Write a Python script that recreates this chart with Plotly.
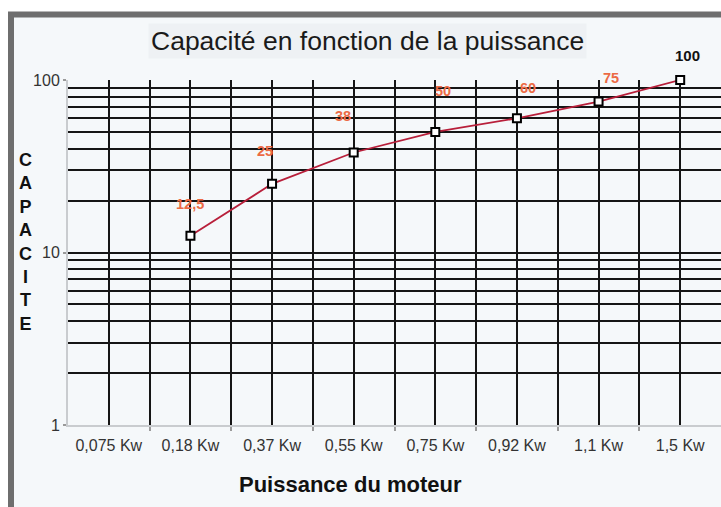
import math
import plotly.graph_objects as go

# ---- data ----
categories = ["0,075 Kw", "0,18 Kw", "0,37 Kw", "0,55 Kw", "0,75 Kw", "0,92 Kw", "1,1 Kw", "1,5 Kw"]
point_categories = ["0,18 Kw", "0,37 Kw", "0,55 Kw", "0,75 Kw", "0,92 Kw", "1,1 Kw", "1,5 Kw"]
capacite = [12.5, 25, 38, 50, 60, 75, 100]
y_ticks = [1, 10, 100]

# label offsets in pixels (style only)
label_dx = [0, -7, -11, 8, 11, 12, 7]
label_dy = [32, 33, 36, 41, 30, 24, 25]

W, H = 721, 507
ML, MR, MT, MB = 68, 0, 80, 82
PW, PH = W - ML - MR, H - MT - MB

def px(xp):
    return (xp - ML) / PW

def py(yp):
    return (H - MB - yp) / PH

xi = [categories.index(c) for c in point_categories]

fig = go.Figure()
fig.add_trace(go.Scatter(
    x=xi, y=capacite, mode="lines+markers",
    line=dict(color="#b81f3a", width=1.8),
    marker=dict(symbol="square", size=8, color="white", line=dict(color="black", width=2)),
    cliponaxis=False, showlegend=False, hoverinfo="skip",
))

annotations = []
for i, (x, v) in enumerate(zip(xi, capacite)):
    txt = (f"{v:g}").replace(".", ",")
    last = i == len(capacite) - 1
    annotations.append(dict(
        x=x, y=math.log10(v), xref="x", yref="y",
        text=f"<b>{txt}</b>", showarrow=False,
        xanchor="center", yanchor="middle",
        xshift=label_dx[i], yshift=label_dy[i],
        font=dict(family="Liberation Sans, Arial", size=15 if last else 14.5,
                  color="#111111" if last else "#ec6a44"),
    ))

annotations.append(dict(
    x=px(367), y=py(41), xref="paper", yref="paper",
    xanchor="center", yanchor="middle",
    text="Capacité en fonction de la puissance", showarrow=False,
    font=dict(family="Liberation Sans, Arial", size=26.5, color="#1a1a1a"),
    bgcolor="#eef1f4", borderpad=2,
))
annotations.append(dict(
    x=px(350), y=py(485), xref="paper", yref="paper",
    xanchor="center", yanchor="middle",
    text="<b>Puissance du moteur</b>", showarrow=False,
    font=dict(family="Liberation Sans, Arial", size=22, color="#111111"),
))
annotations.append(dict(
    x=px(25), y=py(242), xref="paper", yref="paper",
    xanchor="center", yanchor="middle",
    text="<b>" + "<br>".join(list("CAPACITE")) + "</b>", showarrow=False,
    font=dict(family="Liberation Sans, Arial", size=18, color="#111111"),
))

shapes = [dict(
    type="rect", xref="paper", yref="paper", layer="below",
    x0=px(11), x1=px(W + 20), y0=py(14.5), y1=py(H + 20),
    fillcolor="#f5f8fa", line=dict(color="#6e6e6e", width=6),
)]

fig.update_layout(
    width=W, height=H,
    margin=dict(l=ML, r=MR, t=MT, b=MB),
    paper_bgcolor="white",
    plot_bgcolor="#f7f9fb",
    annotations=annotations,
    shapes=shapes,
    xaxis=dict(
        range=[-0.5, 7.5],
        tickmode="array", tickvals=list(range(len(categories))), ticktext=categories,
        showgrid=True, gridcolor="#151515", gridwidth=2,
        ticks="outside", ticklen=0, ticklabelstandoff=5,
        showline=True, linecolor="#c9cccf", linewidth=2,
        tickfont=dict(family="Liberation Sans, Arial", size=16, color="#333333"),
        minor=dict(tickvals=[k + 0.5 for k in range(len(categories) - 1)],
                   showgrid=True, gridcolor="#151515", gridwidth=2,
                   ticks="outside", ticklen=4, tickcolor="#9a9a9a", tickwidth=2),
        zeroline=False, fixedrange=True,
    ),
    yaxis=dict(
        type="log", range=[0, 2],
        tickmode="array", tickvals=y_ticks, ticktext=[str(t) for t in y_ticks],
        showgrid=True, gridcolor="#151515", gridwidth=2,
        ticks="outside", ticklen=3, tickcolor="#9a9a9a", tickwidth=2,
        showline=True, linecolor="#c9cccf", linewidth=2,
        tickfont=dict(family="Liberation Sans, Arial", size=16, color="#333333"),
        minor=dict(tickvals=[2, 3, 4, 5, 6, 7, 8, 9, 20, 30, 40, 50, 60, 70, 80, 90],
                   showgrid=True, gridcolor="#151515", gridwidth=2),
        zeroline=False, fixedrange=True,
    ),
)

fig.write_html("out.html", config={"displayModeBar": False},
               post_script="document.body.style.margin='0px';")
